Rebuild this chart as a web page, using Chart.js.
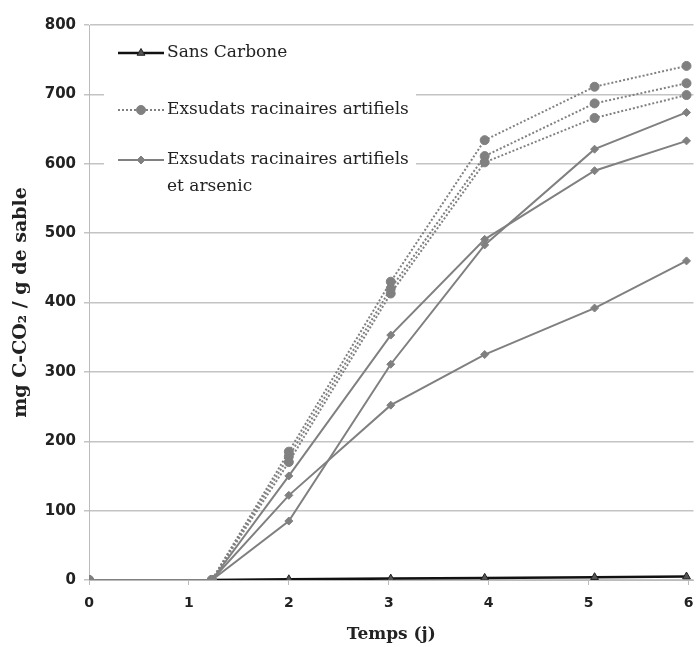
<!DOCTYPE html>
<html>
<head>
<meta charset="utf-8">
<script src="https://cdn.jsdelivr.net/npm/chart.js@4"></script>
<style>
  html, body { margin: 0; padding: 0; background: #fff; overflow: hidden; }
  #wrap { width: 699px; height: 647px; position: relative; }
</style>
</head>
<body>
<div id="wrap"><canvas id="chart"></canvas></div>
<script>
// temps de mesure (jours)
const timeDays = [0, 1.23, 2, 3.02, 3.96, 5.06, 5.98];
const xTickValues = [0, 1, 2, 3, 4, 5, 6];

// mg C-CO2 / g de sable
const sansCarbone = [null, 0, 1, 2, 3, 4, 5];
const exsudats1 = [0, 0, 185, 430, 634, 711, 741];
const exsudats2 = [0, 0, 178, 420, 611, 687, 716];
const exsudats3 = [0, 0, 170, 413, 602, 666, 699];
const arsenic1 = [0, 0, 150, 353, 491, 590, 633];
const arsenic2 = [0, 0, 85, 311, 483, 621, 674];
const arsenic3 = [0, 0, 122, 252, 325, 392, 460];

const legendLabels = [
  ['Sans Carbone'],
  ['Exsudats racinaires artifiels'],
  ['Exsudats racinaires artifiels', 'et arsenic']
];

const GREY = '#808080';

function pts(values) {
  return values.map((v, i) => ({ x: timeDays[i], y: v }));
}

function sansSet(values) {
  return {
    data: pts(values), group: 0, order: 3,
    borderColor: '#111', borderWidth: 2.5,
    pointStyle: 'triangle', pointRadius: 4.5,
    pointBackgroundColor: '#555', pointBorderColor: '#222', pointBorderWidth: 1
  };
}
function dotSet(values) {
  return {
    data: pts(values), group: 1, order: 1,
    borderColor: GREY, borderWidth: 2, borderDash: [2, 2],
    pointStyle: 'circle', pointRadius: 4.5,
    pointBackgroundColor: GREY, pointBorderColor: GREY, pointBorderWidth: 1
  };
}
function diamondSet(values) {
  return {
    data: pts(values), group: 2, order: 2,
    borderColor: GREY, borderWidth: 2,
    pointStyle: 'rectRot', pointRadius: 4,
    pointBackgroundColor: GREY, pointBorderColor: GREY, pointBorderWidth: 1
  };
}

// legende dessinee a la main (plusieurs repetitions par traitement)
const boxLegend = {
  id: 'boxLegend',
  afterDraw(chart) {
    const ctx = chart.ctx;
    ctx.save();
    ctx.fillStyle = '#fff';
    ctx.fillRect(104, 30, 312, 176);
    const rows = [53, 110, 160];
    legendLabels.forEach((lines, g) => {
      const ds = chart.data.datasets.find(d => d.group === g);
      const y = rows[g];
      ctx.strokeStyle = ds.borderColor;
      ctx.lineWidth = ds.borderWidth;
      ctx.setLineDash(ds.borderDash || []);
      ctx.beginPath();
      ctx.moveTo(118, y);
      ctx.lineTo(164, y);
      ctx.stroke();
      ctx.setLineDash([]);
      ctx.fillStyle = ds.pointBackgroundColor;
      ctx.strokeStyle = ds.pointBorderColor;
      ctx.lineWidth = 1;
      Chart.helpers.drawPoint(ctx, { pointStyle: ds.pointStyle, radius: ds.pointRadius, rotation: 0, borderWidth: 1 }, 141, y);
      ctx.fillStyle = '#222';
      ctx.font = '17px "DejaVu Serif"';
      ctx.textBaseline = 'middle';
      ctx.textAlign = 'left';
      lines.forEach((t, k) => ctx.fillText(t, 167, y + k * 27));
    });
    ctx.restore();
  }
};

new Chart(document.getElementById('chart'), {
  type: 'line',
  data: {
    datasets: [
      sansSet(sansCarbone),
      dotSet(exsudats1), dotSet(exsudats2), dotSet(exsudats3),
      diamondSet(arsenic1), diamondSet(arsenic2), diamondSet(arsenic3)
    ]
  },
  options: {
    responsive: true,
    maintainAspectRatio: false,
    animation: false,
    spanGaps: false,
    layout: { padding: { top: 25, right: 0, left: 0, bottom: 0 } },
    plugins: { legend: { display: false }, tooltip: { enabled: false } },
    scales: {
      x: {
        type: 'linear', min: 0, max: 6.05,
        afterBuildTicks: axis => { axis.ticks = xTickValues.map(v => ({ value: v })); },
        afterFit: axis => { axis.height = 67; axis.paddingRight = 4; },
        grid: { drawOnChartArea: false, drawTicks: true, tickLength: 5, color: '#bbb' },
        border: { color: '#bbb' },
        ticks: { padding: 10, color: '#222', font: { family: 'DejaVu Sans', size: 14, weight: 'bold' } },
        title: {
          display: true, text: 'Temps (j)', color: '#222',
          font: { family: 'DejaVu Serif', size: 17, weight: 'bold' },
          padding: { top: 0, bottom: 2 }
        }
      },
      y: {
        min: 0, max: 800,
        ticks: { stepSize: 100, padding: 8, color: '#222', font: { family: 'DejaVu Sans', size: 15, weight: 'bold' } },
        afterFit: axis => { axis.width = 89; },
        grid: { color: '#c4c4c4', lineWidth: 1.5, tickLength: 5 },
        border: { color: '#bbb' },
        title: {
          display: true, text: 'mg C-CO₂ / g de sable', color: '#222',
          font: { family: 'DejaVu Serif', size: 19, weight: 'bold' },
          padding: { top: 10, bottom: 10 }
        }
      }
    }
  },
  plugins: [boxLegend]
});
</script>
</body>
</html>
